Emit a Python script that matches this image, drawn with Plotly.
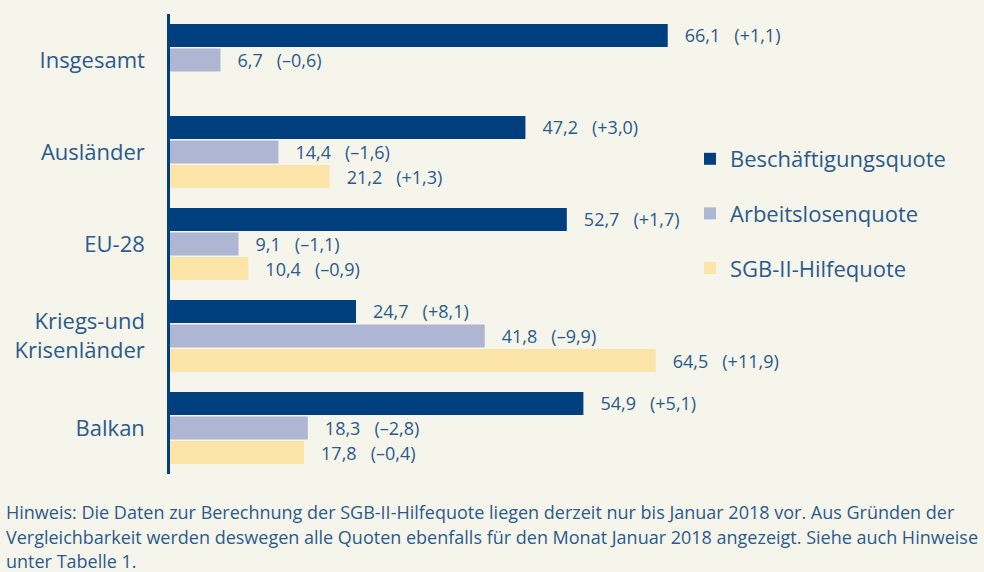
import plotly.graph_objects as go

categories = ["Insgesamt", "Ausländer", "EU-28", "Kriegs-und<br>Krisenländer", "Balkan"]
series_names = ["Beschäftigungsquote", "Arbeitslosenquote", "SGB-II-Hilfequote"]
beschaeftigung = [66.1, 47.2, 52.7, 24.7, 54.9]
beschaeftigung_change = [1.1, 3.0, 1.7, 8.1, 5.1]
arbeitslos = [6.7, 14.4, 9.1, 41.8, 18.3]
arbeitslos_change = [-0.6, -1.6, -1.1, -9.9, -2.8]
sgb = [None, 21.2, 10.4, 64.5, 17.8]
sgb_change = [None, 1.3, -0.9, 11.9, -0.4]

colors = ["#003F7D", "#AFB6D3", "#FDE4A9"]
text_color = "#2B5A8C"
bg = "#F6F5EB"

W, H = 984, 572
L, R, T, B = 170, 61, 14, 98
PW, PH = W - L - R, H - T - B


def fmt(v):
    return f"{abs(v):.1f}".replace(".", ",")


def label(v, c):
    if v is None:
        return ""
    sign = "+" if c >= 0 else "–"
    return "\u00a0\u00a0\u00a0" + fmt(v) + "\u00a0\u00a0\u00a0(" + sign + fmt(c) + ")"


fig = go.Figure()
for name, vals, chg, col in zip(series_names,
                                [beschaeftigung, arbeitslos, sgb],
                                [beschaeftigung_change, arbeitslos_change, sgb_change],
                                colors):
    fig.add_trace(go.Bar(
        y=categories, x=vals, name=name, orientation="h",
        marker=dict(color=col, line=dict(width=0)),
        text=[label(v, c) for v, c in zip(vals, chg)],
        textposition="outside", cliponaxis=False, constraintext="none",
        textfont=dict(family="Open Sans", size=18, color=text_color),
        legendgroup=name, hoverinfo="skip",
    ))


def px_x(x):
    return (x - L) / PW


def px_y(y):
    return (H - B - y) / PH


note_lines = [
    "Hinweis: Die Daten zur Berechnung der SGB-II-Hilfequote liegen derzeit nur bis Januar 2018 vor. Aus Gründen der",
    "Vergleichbarkeit werden deswegen alle Quoten ebenfalls für den Monat Januar 2018 angezeigt. Siehe auch Hinweise",
    "unter Tabelle 1.",
]
annotations = []
for i, line in enumerate(note_lines):
    annotations.append(dict(
        text=line, xref="paper", yref="paper", x=px_x(4), y=px_y(512 + 24.5 * i),
        xanchor="left", yanchor="middle", showarrow=False,
        font=dict(family="Open Sans", size=18, color=text_color),
    ))

fig.update_layout(
    width=W, height=H,
    margin=dict(l=L, r=R, t=T, b=B, autoexpand=False),
    paper_bgcolor=bg, plot_bgcolor=bg,
    barmode="group", bargap=0.2, bargroupgap=0.06,
    showlegend=True,
    legend=dict(
        x=px_x(690), y=px_y(138), xanchor="left", yanchor="top",
        font=dict(family="Open Sans", size=22, color=text_color),
        bgcolor="rgba(0,0,0,0)", tracegroupgap=23, traceorder="grouped",
    ),
    xaxis=dict(range=[0, 100], showgrid=False, zeroline=False, showline=False,
               showticklabels=False, ticks=""),
    yaxis=dict(autorange="reversed", showgrid=False, zeroline=False,
               showline=True, linecolor="#003F7D", linewidth=2.5,
               ticks="", ticklabelstandoff=18,
               tickfont=dict(family="Open Sans", size=22, color=text_color)),
    annotations=annotations,
    font=dict(family="Open Sans", color=text_color),
)

fig.write_html("out.html", config={"displayModeBar": False},
               post_script="document.body.style.margin='0';document.body.style.overflow='hidden';")
